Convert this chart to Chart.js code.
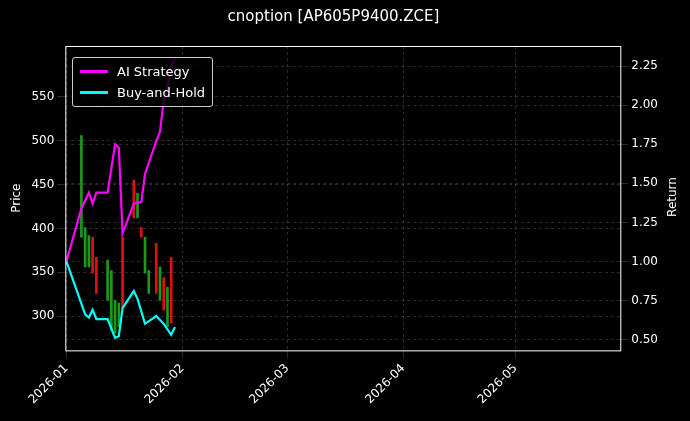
<!DOCTYPE html>
<html>
<head>
<meta charset="utf-8">
<script src="https://cdn.jsdelivr.net/npm/chart.js@4"></script>
<style>
  body { margin: 0; background: #000; }
  #wrap { position: relative; width: 690px; height: 421px; }
  #legend { position: absolute; left: 72px; top: 57px; border: 1px solid #ccc; border-radius: 3px;
    background: rgba(0,0,0,0.8); padding: 3px 7px; font: 13px "DejaVu Sans", sans-serif; color: #fff; }
  #legend div { display: flex; align-items: center; height: 21px; }
  #legend span { display: inline-block; width: 28px; height: 3px; margin-right: 9px; }
  #rtitle { position: absolute; left: 642px; top: 190px; width: 60px; text-align: center;
    transform: rotate(-90deg); font: 12px "DejaVu Sans", sans-serif; color: #fff; }
</style>
</head>
<body>
<div id="wrap">
  <canvas id="c" width="690" height="421"></canvas>
  <div id="legend">
    <div><span style="background:#ff00ff"></span>AI Strategy</div>
    <div><span style="background:#00ffff"></span>Buy-and-Hold</div>
  </div>
  <div id="rtitle">Return</div>
</div>
<script>
// days since 2026-01-01
const monthDays = [0, 31, 59, 90, 120];
const monthLabels = ["2026-01", "2026-02", "2026-03", "2026-04", "2026-05"];

const aiDays = [0, 4, 6, 7, 8, 11, 13, 14, 15, 18, 20, 21, 24, 25, 26, 27, 28, 29];
const aiReturn = [1.0, 1.34, 1.44, 1.37, 1.44, 1.44, 1.75, 1.73, 1.18, 1.37, 1.38, 1.56, 1.77, 1.83, 2.03, 2.12, 2.25, 2.3];

const bhDays = [0, 5, 6, 7, 8, 11, 13, 14, 15, 18, 19, 21, 24, 26, 28, 29];
const bhReturn = [1.0, 0.66, 0.64, 0.69, 0.63, 0.63, 0.51, 0.52, 0.70, 0.81, 0.76, 0.60, 0.65, 0.60, 0.53, 0.58];

const candleDays = [4, 5, 6, 7, 8, 11, 12, 13, 14, 15, 18, 19, 20, 21, 22, 24, 25, 26, 27, 28];
const candleLow  = [390, 356, 356, 349, 326, 318, 284, 281, 288, 310, 412, 412, 390, 349, 326, 326, 318, 307, 288, 292];
const candleHigh = [506, 401, 392, 390, 367, 364, 352, 318, 315, 390, 455, 440, 401, 390, 352, 383, 356, 344, 333, 367];
const candleUp   = [1, 1, 1, 0, 0, 1, 1, 1, 1, 0, 0, 1, 0, 1, 1, 0, 1, 0, 1, 0];

const grid = { color: "rgba(255,255,255,0.28)", lineWidth: 0.6, offset: false };
const border = { display: false, dash: [3, 3] };
const tickFont = { family: "DejaVu Sans", size: 12 };

// white frame around the plot area
const frame = {
    id: "frame",
    afterDraw(chart) {
        const { ctx, chartArea: a } = chart;
        ctx.save();
        ctx.strokeStyle = "#fff";
        ctx.lineWidth = 1;
        ctx.strokeRect(a.left + 0.5, a.top + 0.5, a.right - a.left, a.bottom - a.top);
        ctx.restore();
    }
};

new Chart(document.getElementById("c"), {
    type: "bar",
    data: {
        datasets: [
            {
                type: "bar",
                data: candleDays.map((d, i) => ({ x: d, y: [candleLow[i], candleHigh[i]] })),
                backgroundColor: candleUp.map(u => u ? "#1a9a1a" : "#e01010"),
                barThickness: 2,
                yAxisID: "y",
                order: 3
            },
            {
                type: "line",
                data: aiDays.map((d, i) => ({ x: d, y: aiReturn[i] })),
                borderColor: "#ff00ff", borderWidth: 2.2, pointRadius: 0, tension: 0,
                yAxisID: "y2", order: 1
            },
            {
                type: "line",
                data: bhDays.map((d, i) => ({ x: d, y: bhReturn[i] })),
                borderColor: "#00ffff", borderWidth: 2.2, pointRadius: 0, tension: 0,
                yAxisID: "y2", order: 2
            }
        ]
    },
    options: {
        responsive: false,
        animation: false,
        layout: { padding: { top: 8, right: 29, left: 6, bottom: 11 } },
        plugins: {
            legend: { display: false },
            tooltip: { enabled: false },
            title: { display: true, text: "cnoption [AP605P9400.ZCE]", color: "#fff",
                font: { family: "DejaVu Sans", size: 15, weight: "normal" }, padding: { bottom: 20 } }
        },
        scales: {
            x: {
                type: "linear", min: -0.3, max: 148, offset: false,
                afterBuildTicks: axis => { axis.ticks = monthDays.map(v => ({ value: v })); },
                ticks: { color: "#fff", font: tickFont, maxRotation: 45, minRotation: 45,
                    callback: v => monthLabels[monthDays.indexOf(v)] },
                grid: grid, border: border
            },
            y: {
                position: "left", min: 261, max: 608,
                afterBuildTicks: axis => { axis.ticks = [300, 350, 400, 450, 500, 550].map(v => ({ value: v })); },
                ticks: { color: "#fff", font: tickFont },
                title: { display: true, text: "Price", color: "#fff", font: tickFont },
                grid: grid, border: border
            },
            y2: {
                position: "right", min: 0.43, max: 2.38,
                afterBuildTicks: axis => { axis.ticks = [0.5, 0.75, 1, 1.25, 1.5, 1.75, 2, 2.25].map(v => ({ value: v })); },
                ticks: { color: "#fff", font: tickFont, callback: v => v.toFixed(2) },
                grid: grid, border: border
            }
        }
    },
    plugins: [frame]
});
</script>
</body>
</html>
